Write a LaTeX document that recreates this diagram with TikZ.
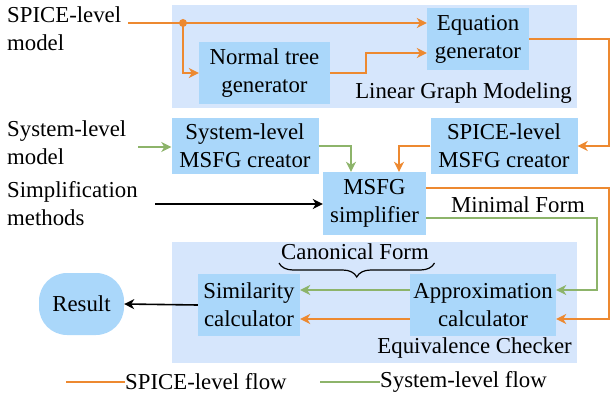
\documentclass[tikz,border=0pt]{standalone}
\usepackage{fontspec}
\setmainfont{Liberation Serif}
\usetikzlibrary{arrows.meta, positioning, decorations.pathreplacing}
\definecolor{spiceor}{RGB}{237,137,48}
\definecolor{sysgr}{RGB}{141,180,106}
\definecolor{bgblue}{RGB}{214,230,252}
\definecolor{boxblue}{RGB}{170,215,250}

\begin{document}
\begin{tikzpicture}[x=1pt, y=-1pt,
    font=\fontsize{22.8}{28}\selectfont,
    box/.style={fill=boxblue, align=center, inner sep=0pt},
    lbl/.style={align=left, inner sep=0pt},
    spice/.style={draw=spiceor, line width=1.6pt, -{Stealth[length=10pt, width=10pt, inset=3pt]}},
    sysfl/.style={draw=sysgr, line width=1.6pt, -{Stealth[length=10pt, width=10pt, inset=3pt]}},
    plain/.style={draw=black, line width=1.6pt, -{Stealth[length=10pt, width=10pt, inset=3pt]}}]
        \useasboundingbox (0,0) rectangle (611,396);

        % Sfondi
        \fill[bgblue] (171.5,5) rectangle (577,108);
        \fill[bgblue] (171.5,242) rectangle (577,363);
        \node[lbl, anchor=east] (lgm) at (572,93) {Linear Graph Modeling};
        \node[lbl, anchor=east] (ec) at (572,348) {Equivalence Checker};

        % Blocchi
        \node[box, minimum width=102pt, minimum height=62pt] (eqgen) at (478,39) {Equation\\generator};
        \node[box, minimum width=131pt, minimum height=62pt] (ntg) at (264.5,73) {Normal tree\\generator};
        \node[box, minimum width=147pt, minimum height=56pt] (sysmsfg) at (245,146) {System-level\\MSFG creator};
        \node[box, minimum width=147pt, minimum height=56pt] (spicemsfg) at (504,146) {SPICE-level\\MSFG creator};
        \node[box, minimum width=103pt, minimum height=63pt] (simp) at (374.5,203.5) {MSFG\\simplifier};
        \node[box, minimum width=102pt, minimum height=62pt] (sim) at (249,305) {Similarity\\calculator};
        \node[box, minimum width=146pt, minimum height=62pt] (approx) at (483,305) {Approximation\\calculator};
        \node[box, minimum width=85pt, minimum height=62pt, rounded corners=28pt] (result) at (81.5,304) {Result};

        % Ingressi
        \node[lbl, anchor=west] (spicein) at (7,29) {SPICE-level\\model};
        \node[lbl, anchor=west] (sysin) at (7,142.5) {System-level\\model};
        \node[lbl, anchor=west] (simpin) at (7,203.5) {Simplification\\methods};
        \node[lbl] (minform) at (518,205) {Minimal Form};

        % Punti
        \coordinate (s0) at (128,23);
        \coordinate (dot) at (183,23);
        \coordinate (rr) at (609,0);
        \coordinate (rg) at (597,0);
        \coordinate (g0) at (138,147);
        \coordinate (k0) at (155,204);

        % Flusso SPICE
        \draw[spice] (s0) -- (eqgen.west |- s0);
        \fill[spiceor] (dot) circle (4pt);
        \draw[spice] (dot) |- (ntg.west);
        \draw[spice] (ntg.east) -- ++(36,0) |- ([yshift=-14pt]eqgen.west);
        \draw[spice] (eqgen.east) -- (eqgen.east -| rr) |- (spicemsfg.east);
        \draw[spice] (spicemsfg.west) -| ([xshift=24.5pt]simp.north);
        \draw[spice] ([yshift=15.5pt]simp.east) -- ([yshift=15.5pt]simp.east -| rr) |- ([yshift=-14pt]approx.east);
        \draw[spice] ([yshift=-14pt]approx.west) -- ([yshift=-14pt]sim.east);

        % Flusso di sistema
        \draw[sysfl] (g0) -- (sysmsfg.west |- g0);
        \draw[sysfl] (sysmsfg.east) -| ([xshift=-23.5pt]simp.north);
        \draw[sysfl] ([yshift=-14.5pt]simp.east) -- ([yshift=-14.5pt]simp.east -| rg) |- ([yshift=15pt]approx.east);
        \draw[sysfl] ([yshift=15pt]approx.west) -- ([yshift=15pt]sim.east);

        % Altri
        \draw[plain] (k0) -- (simp.west |- k0);
        \draw[plain] (sim.west) -- (result.east);

        % Graffa
        \draw[line width=1.2pt, decorate, decoration={brace, mirror, amplitude=14pt}] (279,263) -- (434.5,263);
        \node[lbl] (canon) at (355,252) {Canonical Form};

        % Legenda
        \coordinate (la) at (66,382);
        \coordinate (lb) at (320,382);
        \node[lbl, anchor=west] (spiceleg) at (125,382) {SPICE-level flow};
        \node[lbl, anchor=west] (sysleg) at (380,382) {System-level flow};
        \draw[draw=spiceor, line width=1.6pt] (la) -- (spiceleg.west);
        \draw[draw=sysgr, line width=1.6pt] (lb) -- (sysleg.west);
      \end{tikzpicture}
\end{document}
